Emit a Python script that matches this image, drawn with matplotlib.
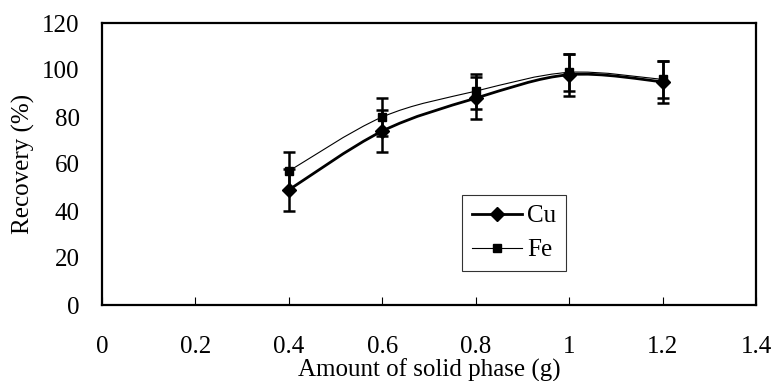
import matplotlib.pyplot as plt
import numpy as np
from matplotlib.path import Path
from matplotlib.patches import PathPatch
from matplotlib.lines import Line2D

amount = [0.4, 0.6, 0.8, 1.0, 1.2]
cu = [49, 74, 88, 98, 95]
cu_err = [9, 9, 9, 9, 9]
fe = [57, 80, 91, 99, 96]
fe_err = [8, 8, 7.5, 8, 8]

plt.rcParams['font.family'] = ['Liberation Serif', 'DejaVu Serif']


def smooth_path(x, y):
    # Catmull-Rom style bezier through the points (like Excel smoothed lines)
    x = np.asarray(x, float)
    y = np.asarray(y, float)
    verts = [(x[0], y[0])]
    codes = [Path.MOVETO]
    n = len(x)
    for i in range(n - 1):
        x0, y0 = (x[i - 1], y[i - 1]) if i > 0 else (x[i], y[i])
        x3, y3 = (x[i + 2], y[i + 2]) if i + 2 < n else (x[i + 1], y[i + 1])
        c1 = (x[i] + (x[i + 1] - x0) / 6, y[i] + (y[i + 1] - y0) / 6)
        c2 = (x[i + 1] - (x3 - x[i]) / 6, y[i + 1] - (y3 - y[i]) / 6)
        verts += [c1, c2, (x[i + 1], y[i + 1])]
        codes += [Path.CURVE4] * 3
    return Path(verts, codes)


fig = plt.figure(figsize=(7.74, 3.81), dpi=100)
ax = fig.add_axes([102 / 774, 1 - 305 / 381, 654 / 774, 282 / 381])

ax.add_patch(PathPatch(smooth_path(amount, fe), fill=False, lw=0.8, color='black'))
ax.add_patch(PathPatch(smooth_path(amount, cu), fill=False, lw=2.0, color='black'))

ax.errorbar(amount, fe, yerr=fe_err, fmt='s', color='black', ms=6,
            elinewidth=1.8, capsize=4, capthick=1.8)
ax.errorbar(amount, cu, yerr=cu_err, fmt='D', color='black', ms=7,
            elinewidth=1.8, capsize=4, capthick=1.8)

ax.set_xlim(0, 1.4)
ax.set_ylim(0, 120)
ax.set_xticks([0, 0.2, 0.4, 0.6, 0.8, 1.0, 1.2, 1.4])
ax.set_xticklabels(['0', '0.2', '0.4', '0.6', '0.8', '1', '1.2', '1.4'])
ax.set_yticks([0, 20, 40, 60, 80, 100, 120])
ax.tick_params(axis='x', direction='in', length=6, width=0.8, pad=22, labelsize=18)
ax.tick_params(axis='y', length=0, pad=16, labelsize=18)
for s in ax.spines.values():
    s.set_linewidth(1.6)

ax.set_xlabel('Amount of solid phase (g)', fontsize=18)
ax.xaxis.set_label_coords(0.5, (305 - 359) / 282)
ax.set_ylabel('Recovery (%)', fontsize=18, labelpad=5)

handles = [Line2D([], [], color='black', lw=2.0, marker='D', ms=7),
           Line2D([], [], color='black', lw=0.8, marker='s', ms=6)]
leg = ax.legend(handles, ['Cu', 'Fe'], loc='upper left',
                bbox_to_anchor=((462 - 102) / 654, (305 - 195) / 282),
                borderaxespad=0, fontsize=18, frameon=True, fancybox=False,
                edgecolor='black', handlelength=2.0, handletextpad=0.2,
                borderpad=0.4, labelspacing=0.45)
leg.get_frame().set_linewidth(0.8)

fig.savefig('out.png', dpi=100)
